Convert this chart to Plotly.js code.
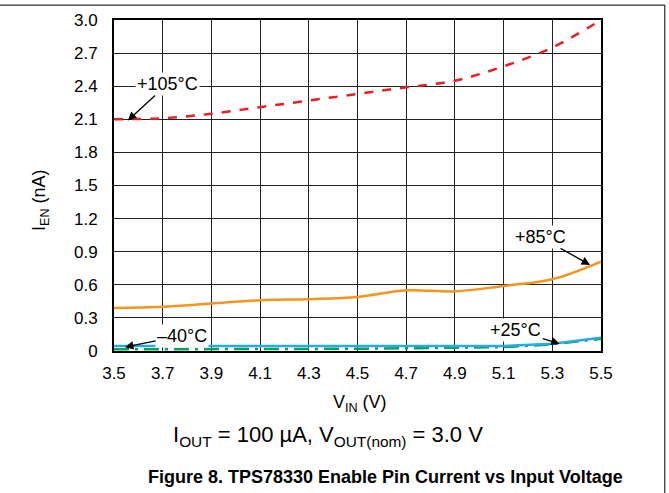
<!DOCTYPE html>
<html>
<head>
<meta charset="utf-8">
<script src="https://cdn.plot.ly/plotly-3.0.1.min.js"></script>
<style>
html,body{margin:0;padding:0;background:#fff;}
#chart{width:669px;height:493px;}
</style>
</head>
<body>
<div id="chart"></div>
<script>
var vin = [3.5, 3.7, 3.9, 4.1, 4.3, 4.5, 4.7, 4.9, 5.1, 5.3, 5.5];
var i105 = [2.10, 2.11, 2.15, 2.21, 2.27, 2.33, 2.39, 2.45, 2.58, 2.75, 3.00];
var i85  = [0.39, 0.40, 0.43, 0.46, 0.47, 0.49, 0.55, 0.54, 0.59, 0.65, 0.81];
var im40 = [0.045, 0.045, 0.045, 0.04, 0.04, 0.04, 0.04, 0.04, 0.045, 0.065, 0.12];
var i25  = [0.015, 0.015, 0.015, 0.02, 0.02, 0.02, 0.025, 0.03, 0.035, 0.06, 0.11];
var xTicks = [3.5, 3.7, 3.9, 4.1, 4.3, 4.5, 4.7, 4.9, 5.1, 5.3, 5.5];
var xTickText = ["3.5","3.7","3.9","4.1","4.3","4.5","4.7","4.9","5.1","5.3","5.5"];
var yTicks = [0, 0.3, 0.6, 0.9, 1.2, 1.5, 1.8, 2.1, 2.4, 2.7, 3.0];
var yTickText = ["0","0.3","0.6","0.9","1.2","1.5","1.8","2.1","2.4","2.7","3.0"];

var font = "Liberation Sans, Arial, sans-serif";
var traces = [
  {x: vin, y: i25, mode: "lines", line: {color: "#00a651", width: 2.5, dash: "longdashdot"}},
  {x: vin, y: im40, mode: "lines", line: {color: "#29abe2", width: 2.5}},
  {x: vin, y: i85, mode: "lines", line: {color: "#f7941d", width: 2.5, shape: "spline"}},
  {x: vin, y: i105, mode: "lines", line: {color: "#ed1c24", width: 2.5, dash: "dash", shape: "spline"}}
];
function ann(text, x, y, ax, ay){
  return {text: text, x: x, y: y, ax: ax, ay: ay, xref: "x", yref: "y", axref: "x", ayref: "y",
    showarrow: true, arrowhead: 2, arrowsize: 1.3, arrowwidth: 1.3, arrowcolor: "#000",
    bgcolor: "#fff", borderpad: 1, font: {family: font, size: 18, color: "#000"}};
}
var layout = {
  width: 669, height: 493,
  margin: {l: 114, r: 68, t: 20, b: 142},
  paper_bgcolor: "#fff", plot_bgcolor: "#fff",
  showlegend: false,
  font: {family: font, size: 17, color: "#000"},
  xaxis: {range: [3.5, 5.5], tickvals: xTicks, ticktext: xTickText, showgrid: true,
    gridcolor: "#222", gridwidth: 1, zeroline: false, showline: true, linecolor: "#000",
    linewidth: 2, mirror: true, ticks: "", ticklabelstandoff: 6, tickfont: {family: font, size: 17}},
  yaxis: {range: [0, 3.0], tickvals: yTicks, ticktext: yTickText, showgrid: true,
    gridcolor: "#222", gridwidth: 1, zeroline: false, showline: true, linecolor: "#000",
    linewidth: 2, mirror: true, ticks: "", ticklabelstandoff: 11, tickfont: {family: font, size: 17}},
  annotations: [
    ann("+105°C", 3.557, 2.09, 3.72, 2.42),
    ann("+85°C", 5.455, 0.78, 5.25, 1.035),
    ann("–40°C", 3.545, 0.035, 3.78, 0.14),
    ann("+25°C", 5.33, 0.065, 5.15, 0.19),
    {text: "I<sub>EN</sub> (nA)", xref: "paper", yref: "paper", x: -0.152, y: 0.456,
     textangle: -90, showarrow: false, xanchor: "center", yanchor: "middle", font: {family: font, size: 18}},
    {text: "V<sub>IN</sub> (V)", xref: "paper", yref: "paper", x: 0.505, y: -0.16,
     showarrow: false, xanchor: "center", yanchor: "middle", font: {family: font, size: 18}},
    {text: "I<sub>OUT</sub> = 100 µA, V<sub>OUT(nom)</sub> = 3.0 V", xref: "paper", yref: "paper",
     x: 0.44, y: -0.257, showarrow: false, xanchor: "center", yanchor: "middle", font: {family: font, size: 22}},
    {text: "<b>Figure 8. TPS78330 Enable Pin Current vs Input Voltage</b>", xref: "paper", yref: "paper",
     x: 0.557, y: -0.38, showarrow: false, xanchor: "center", yanchor: "middle", font: {family: font, size: 18}}
  ],
  shapes: [
    {type: "line", xref: "paper", yref: "paper", x0: -0.24, x1: 1.131, y0: 1.045, y1: 1.045, line: {color: "#000", width: 1}},
    {type: "line", xref: "paper", yref: "paper", x0: 1.131, x1: 1.131, y0: 1.045, y1: -0.43, line: {color: "#000", width: 1}}
  ]
};
Plotly.newPlot("chart", traces, layout, {displayModeBar: false, staticPlot: true});
</script>
</body>
</html>
